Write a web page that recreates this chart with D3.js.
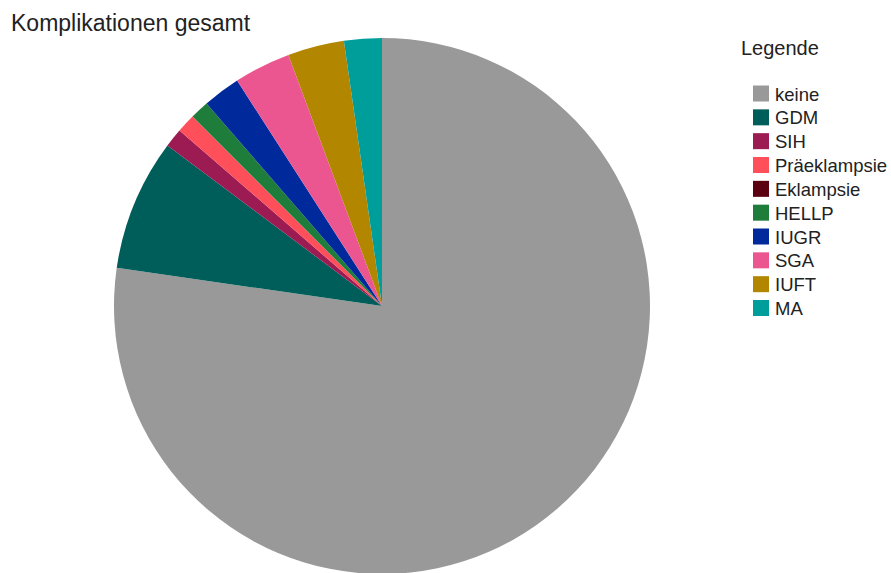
<!DOCTYPE html>
<html>
<head>
<meta charset="utf-8">
<script src="https://cdn.jsdelivr.net/npm/d3@7"></script>
<style>
  html, body { margin: 0; padding: 0; background: #ffffff; }
  svg text { font-family: "Liberation Sans", Arial, sans-serif; fill: #222; }
</style>
</head>
<body>
<svg id="chart" width="891" height="573"></svg>
<script>
// Complications overall (counts per category)
const categories = ["keine", "GDM", "SIH", "Präeklampsie", "Eklampsie", "HELLP", "IUGR", "SGA", "IUFT", "MA"];
const counts     = [68, 7, 1, 1, 0, 1, 2, 3, 3, 2];
const colors     = ["#999999", "#005e5a", "#9b1b52", "#ff4f5a", "#5a0010", "#1e7d3a", "#00299c", "#eb5690", "#b38600", "#009e9b"];
const titleText  = "Komplikationen gesamt";
const legendTitle = "Legende";

const svg = d3.select("#chart");

const cx = 382, cy = 306, radius = 268;

const color = d3.scaleOrdinal().domain(categories).range(colors);

const data = categories.map((c, i) => ({ name: c, value: counts[i] }));

const pie = d3.pie()
  .value(d => d.value)
  .sort(null)
  .startAngle(0)
  .endAngle(2 * Math.PI);

const arc = d3.arc().innerRadius(0).outerRadius(radius);

svg.append("g")
  .attr("transform", `translate(${cx},${cy})`)
  .selectAll("path")
  .data(pie(data))
  .join("path")
  .attr("d", arc)
  .attr("fill", d => color(d.data.name));

// Title
svg.append("text")
  .attr("x", 11)
  .attr("y", 31)
  .attr("font-size", 23)
  .text(titleText);

// Legend
const legend = svg.append("g");
legend.append("text")
  .attr("x", 741)
  .attr("y", 55)
  .attr("font-size", 20)
  .text(legendTitle);

const rowY = d3.scalePoint().domain(categories).range([100.5, 315]);

const rows = legend.selectAll("g.row")
  .data(categories)
  .join("g")
  .attr("class", "row")
  .attr("transform", d => `translate(0,${rowY(d)})`);

rows.append("rect")
  .attr("x", 753)
  .attr("y", -15)
  .attr("width", 16)
  .attr("height", 16)
  .attr("fill", d => color(d));

rows.append("text")
  .attr("x", 775)
  .attr("y", 0)
  .attr("font-size", 18.5)
  .text(d => d);
</script>
</body>
</html>
